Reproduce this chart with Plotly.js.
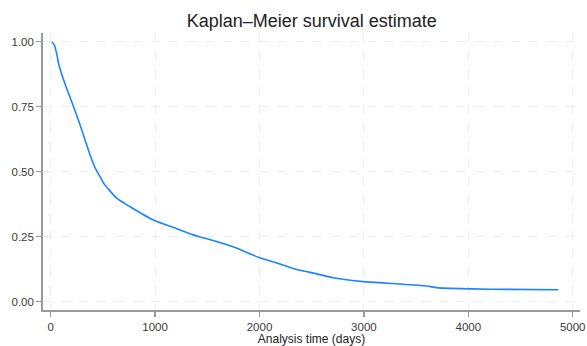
<!DOCTYPE html>
<html>
<head>
<meta charset="utf-8">
<script src="https://cdn.plot.ly/plotly-3.0.1.min.js"></script>
<style>html,body{margin:0;padding:0;background:#fff;}#chart{width:587px;height:346px;}</style>
</head>
<body>
<div id="chart"></div>
<script>
const analysisTime = [10, 32, 57, 73, 105, 153, 216, 281, 329, 377, 425, 488, 504, 632, 760, 983, 1207, 1366, 1430, 1557, 1765, 1989, 2196, 2324, 2388, 2548, 2707, 2994, 3346, 3601, 3697, 3825, 4208, 4862];
const survival = [1.0, 0.99, 0.955, 0.92, 0.875, 0.82, 0.753, 0.68, 0.622, 0.564, 0.515, 0.47, 0.457, 0.398, 0.365, 0.314, 0.281, 0.257, 0.249, 0.235, 0.208, 0.171, 0.145, 0.128, 0.121, 0.107, 0.092, 0.077, 0.068, 0.060, 0.054, 0.051, 0.048, 0.046];
const xTicks = [0, 1000, 2000, 3000, 4000, 5000];
const yTicks = [0, 0.25, 0.5, 0.75, 1];
const yTickLabels = ["0.00", "0.25", "0.50", "0.75", "1.00"];

const FONT = 'Liberation Sans, Arial, sans-serif';
const trace = {
  x: analysisTime, y: survival, type: 'scatter', mode: 'lines',
  line: {color: '#1a85ff', width: 1.6, shape: 'spline', smoothing: 0.6},
  hoverinfo: 'skip', showlegend: false
};
const axisCommon = {
  showline: true, linecolor: '#999999', linewidth: 1.8,
  ticks: 'outside', ticklen: 5, tickwidth: 1.3, tickcolor: '#999999',
  showgrid: true, gridcolor: '#ededed', gridwidth: 1, griddash: 'dash',
  zeroline: false, tickfont: {family: FONT, size: 11.5, color: '#3a3a3a'}
};
const layout = {
  width: 587, height: 346,
  margin: {l: 43, r: 7, t: 33, b: 36},
  paper_bgcolor: '#fff', plot_bgcolor: '#fff',
  title: {text: 'Kaplan–Meier survival estimate', x: 0.531, xanchor: 'center', y: 0.94, yanchor: 'middle',
    font: {family: FONT, size: 18, color: '#222'}},
  xaxis: Object.assign({}, axisCommon, {
    range: [-74, 5070], tickvals: xTicks, ticktext: xTicks.map(String),
    title: {text: 'Analysis time (days)', standoff: 4, font: {family: FONT, size: 12, color: '#222'}}
  }),
  yaxis: Object.assign({}, axisCommon, {
    range: [-0.032, 1.0335], tickvals: yTicks, ticktext: yTickLabels
  })
};
Plotly.newPlot('chart', [trace], layout, {staticPlot: true, displayModeBar: false});
</script>
</body>
</html>
